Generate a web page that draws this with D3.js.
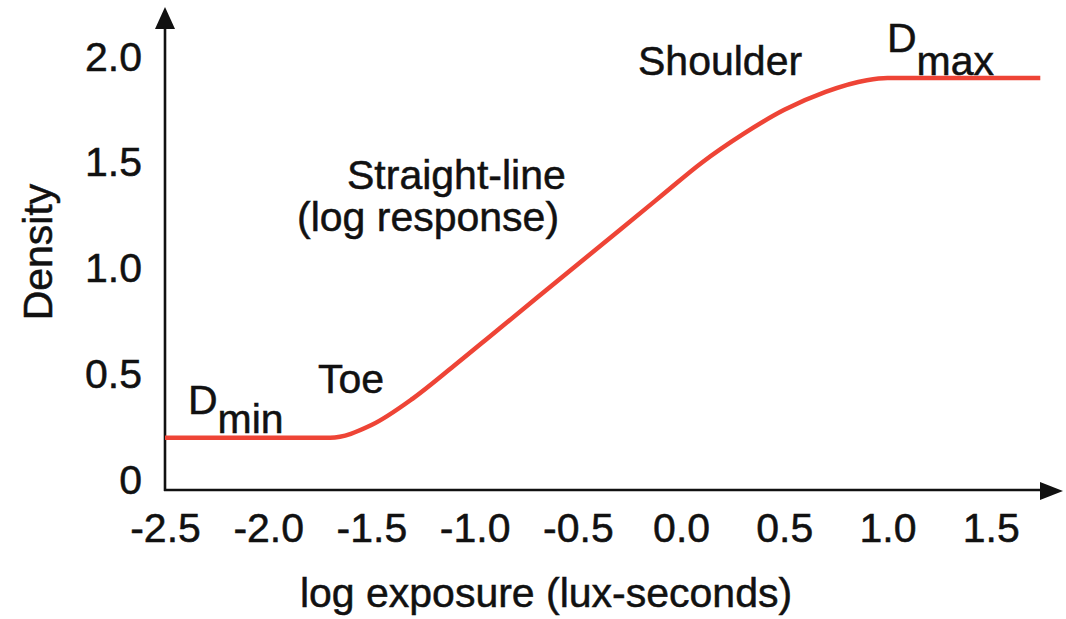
<!DOCTYPE html>
<html>
<head>
<meta charset="utf-8">
<script src="https://cdn.jsdelivr.net/npm/d3@7/dist/d3.min.js"></script>
<style>
  html, body { margin: 0; padding: 0; background: #fff; }
  svg { display: block; }
  text { font-family: "Liberation Sans", Arial, Helvetica, sans-serif; fill: #111; stroke: #111; stroke-width: 0.5px; }
</style>
</head>
<body>
<svg id="chart" width="1066" height="619"></svg>
<script>
// ---- data ----
const exposure = [-2.5, -2.0, -1.7, -1.5, -1.3, -1.1, -0.9, -0.7, -0.5, -0.3, -0.1, 0.1, 0.3, 0.5, 0.7, 0.9, 1.0, 1.74];
const density  = [0.2, 0.2, 0.2, 0.26, 0.385, 0.54, 0.70, 0.86, 1.02, 1.18, 1.34, 1.50, 1.635, 1.75, 1.835, 1.89, 1.9, 1.9];
const xTickValues = [-2.5, -2.0, -1.5, -1.0, -0.5, 0.0, 0.5, 1.0, 1.5];
const xTickLabels = ["-2.5", "-2.0", "-1.5", "-1.0", "-0.5", "0.0", "0.5", "1.0", "1.5"];
const yTickValues = [0, 0.5, 1.0, 1.5, 2.0];
const yTickLabels = ["0", "0.5", "1.0", "1.5", "2.0"];
const xTitle = "log exposure (lux-seconds)";
const yTitle = "Density";

// ---- layout ----
const svg = d3.select("#chart");
const FS = 41;
const x = d3.scaleLinear().domain([-2.5, 1.85]).range([165, 1063]);
const y = d3.scaleLinear().domain([-0.047, 2.236]).range([490, 7]);
const x0 = x(-2.5), xEnd = x.range()[1];
const y0 = y.range()[0], yEnd = y.range()[1];

// axes lines with arrowheads
svg.append("line").attr("x1", x0).attr("y1", y0 + 1).attr("x2", x0).attr("y2", yEnd + 18)
  .attr("stroke", "#111").attr("stroke-width", 2.6);
svg.append("line").attr("x1", x0 - 1).attr("y1", y0).attr("x2", xEnd - 18).attr("y2", y0)
  .attr("stroke", "#111").attr("stroke-width", 2.6);
svg.append("path").attr("d", `M${x0},${yEnd} L${x0 - 10},${yEnd + 22} L${x0 + 10},${yEnd + 22} Z`).attr("fill", "#111");
svg.append("path").attr("d", `M${xEnd},${y0 + 1} L${xEnd - 23},${y0 - 8} L${xEnd - 23},${y0 + 10} Z`).attr("fill", "#111");

// tick labels via axes
const xAxis = d3.axisBottom(x).tickValues(xTickValues).tickSize(0).tickPadding(23)
  .tickFormat((d, i) => xTickLabels[i]);
const gx = svg.append("g").attr("transform", `translate(0,${y0})`).call(xAxis);
gx.select(".domain").remove();
gx.selectAll("text").attr("font-size", FS).attr("font-family", null).attr("fill", "#111");

const yAxis = d3.axisLeft(y).tickValues(yTickValues).tickSize(0).tickPadding(23)
  .tickFormat((d, i) => yTickLabels[i]);
const gy = svg.append("g").attr("transform", `translate(${x0},0)`).call(yAxis);
gy.select(".domain").remove();
gy.selectAll("text").attr("font-size", FS).attr("font-family", null).attr("fill", "#111");

// curve
const pts = exposure.map((e, i) => [e, density[i]]);
const line = d3.line().x(d => x(d[0])).y(d => y(d[1])).curve(d3.curveMonotoneX);
svg.append("path").datum(pts).attr("d", line)
  .attr("fill", "none").attr("stroke", "#ee4436").attr("stroke-width", 4.5)
  .attr("stroke-linecap", "butt");

// axis titles
svg.append("text").attr("x", 546).attr("y", 607).attr("text-anchor", "middle")
  .attr("font-size", FS).text(xTitle);
svg.append("text").attr("transform", "translate(52,252) rotate(-90)").attr("text-anchor", "middle")
  .attr("font-size", FS).text(yTitle);

// annotations
function sub(xp, yp, main, s, dy) {
  const t = svg.append("text").attr("x", xp).attr("y", yp).attr("font-size", FS);
  t.append("tspan").text(main);
  t.append("tspan").attr("dy", dy).text(s);
}
sub(188, 414, "D", "min", 19);
sub(887, 52, "D", "max", 23);
svg.append("text").attr("x", 318).attr("y", 393).attr("font-size", FS).text("Toe");
svg.append("text").attr("x", 347).attr("y", 189).attr("font-size", FS).text("Straight-line");
svg.append("text").attr("x", 297).attr("y", 231).attr("font-size", FS).text("(log response)");
svg.append("text").attr("x", 638).attr("y", 75).attr("font-size", FS).text("Shoulder");
</script>
</body>
</html>
